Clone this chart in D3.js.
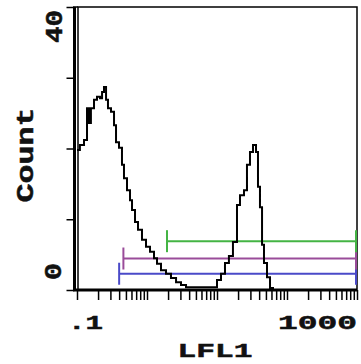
<!DOCTYPE html>
<html>
<head>
<meta charset="utf-8">
<script src="https://cdn.jsdelivr.net/npm/d3@7"></script>
<style>
  body { margin: 0; background: #fff; }
  svg { display: block; }
  .lbl { font-family: "Liberation Mono", "DejaVu Sans Mono", monospace; font-weight: bold; fill: #111; stroke: #111; stroke-width: 0.5; }
</style>
</head>
<body>
<div id="chart"></div>
<script>
// histogram: LFL1 channel value -> count
const lfl1 = [0.1, 0.11, 0.126, 0.139, 0.148, 0.158, 0.175, 0.193, 0.213, 0.228, 0.243, 0.26, 0.277,
  0.306, 0.338, 0.361, 0.398, 0.439, 0.469, 0.518, 0.572, 0.611, 0.674, 0.744, 0.848, 0.968,
  1.104, 1.259, 1.39, 1.585, 1.87, 2.2, 2.6, 3.06, 3.61, 10.0, 11.4, 13.0, 14.8, 16.9, 19.3,
  21.3, 24.3, 26.8, 29.6, 32.7, 36.1, 38.5, 41.1, 44.0, 46.9, 51.8, 57.2, 63.1];
const counts = [19.8, 20.5, 21.2, 25.7, 23.6, 25.7, 26.9, 27.3, 27.1, 28.0, 28.7, 26.9, 25.7,
  25.2, 23.3, 20.9, 20.1, 17.7, 15.8, 14.1, 12.7, 11.3, 9.6, 8.5, 7.1, 6.1,
  5.4, 4.5, 3.7, 2.8, 2.3, 1.7, 1.1, 0.7, 0.4, 1.4, 2.3, 3.8, 4.8, 6.8, 12.0,
  13.4, 14.1, 17.7, 19.5, 20.5, 19.5, 14.6, 11.7, 6.4, 3.8, 1.8, 0.3, 0];

// range markers
const markerLo = [0.40, 0.46, 1.93];
const markerHi = [1000, 1000, 1000];
const markerLevel = [2.3, 4.45, 6.9];
const markerColor = ['#4a4ac8', '#9a4c9a', '#44b444'];

const yTicks = [0, 10, 20, 30, 40];
const xMinor = [];
[0.1, 1, 10, 100].forEach(d => { for (let k = 1; k < 10; k++) xMinor.push(+(d * k).toPrecision(3)); });
xMinor.push(1000);

const W = 361, H = 364;
const mLeft = 77, mRight = 357, mTop = 7, mBottom = 290;

const svg = d3.select('#chart').append('svg')
  .attr('width', W).attr('height', H);

const x = d3.scaleLog().domain([0.1, 1000]).range([mLeft, mRight]);
const y = d3.scaleLinear().domain([0, 40]).range([mBottom, mTop]);

// frame
svg.append('rect')
  .attr('x', 78).attr('y', mTop)
  .attr('width', mRight - 78).attr('height', mBottom - mTop)
  .attr('fill', 'none').attr('stroke', '#000').attr('stroke-width', 1.5);
svg.append('line')
  .attr('x1', 73).attr('x2', 78).attr('y1', mTop).attr('y2', mTop)
  .attr('stroke', '#000').attr('stroke-width', 1.5);

// y axis
const yAxis = svg.append('g')
  .attr('transform', 'translate(74.5,0)')
  .call(d3.axisLeft(y).tickValues(yTicks).tickSize(8).tickFormat(''));
yAxis.select('.domain').attr('stroke-width', 3).attr('d', `M0,${mTop}V${mBottom + 1}`);
yAxis.selectAll('.tick line').attr('stroke-width', 1.5);

// x axis
const xAxis = svg.append('g')
  .attr('transform', `translate(0,${mBottom})`)
  .call(d3.axisBottom(x).tickValues(xMinor).tickSize(10).tickFormat(''));
xAxis.select('.domain').attr('stroke-width', 3).attr('d', `M73,0H${mRight}`);
xAxis.selectAll('.tick line').attr('stroke-width', 1.5);

// markers
markerLo.forEach((lo, i) => {
  const g = svg.append('g').attr('stroke', markerColor[i]).attr('stroke-width', 2);
  const yy = y(markerLevel[i]);
  g.append('line').attr('x1', x(lo)).attr('x2', x(markerHi[i]) - 1).attr('y1', yy).attr('y2', yy);
  [lo, markerHi[i]].forEach(v => {
    const xx = v === markerHi[i] ? x(v) - 1 : x(v);
    g.append('line').attr('x1', xx).attr('x2', xx).attr('y1', yy - 11).attr('y2', yy + 11);
  });
});

// histogram
const line = d3.line()
  .x((d, i) => x(lfl1[i]))
  .y(d => y(d))
  .curve(d3.curveStepAfter);
svg.append('path')
  .datum(counts)
  .attr('fill', 'none')
  .attr('stroke', '#000')
  .attr('stroke-width', 2)
  .attr('d', line);

// labels
svg.append('text').attr('class', 'lbl')
  .attr('x', 68).attr('y', 329).attr('font-size', 20)
  .attr('textLength', 35).attr('lengthAdjust', 'spacingAndGlyphs')
  .text('.1');
svg.append('text').attr('class', 'lbl')
  .attr('x', 357).attr('y', 329).attr('font-size', 20).attr('text-anchor', 'end')
  .attr('textLength', 79).attr('lengthAdjust', 'spacingAndGlyphs')
  .text('1000');
svg.append('text').attr('class', 'lbl')
  .attr('x', 215).attr('y', 357).attr('font-size', 20).attr('text-anchor', 'middle')
  .attr('textLength', 75).attr('lengthAdjust', 'spacingAndGlyphs')
  .text('LFL1');

svg.append('text').attr('class', 'lbl')
  .attr('transform', `translate(62,${mTop + 3}) rotate(-90)`)
  .attr('font-size', 23).attr('text-anchor', 'end')
  .attr('textLength', 33).attr('lengthAdjust', 'spacingAndGlyphs')
  .text('40');
svg.append('text').attr('class', 'lbl')
  .attr('transform', `translate(61,${mBottom - 10}) rotate(-90)`)
  .attr('font-size', 23).attr('text-anchor', 'start')
  .attr('textLength', 17).attr('lengthAdjust', 'spacingAndGlyphs')
  .text('0');
svg.append('text').attr('class', 'lbl')
  .attr('transform', 'translate(33,155) rotate(-90)')
  .attr('font-size', 23).attr('text-anchor', 'middle')
  .attr('textLength', 95).attr('lengthAdjust', 'spacingAndGlyphs')
  .text('Count');
</script>
</body>
</html>
